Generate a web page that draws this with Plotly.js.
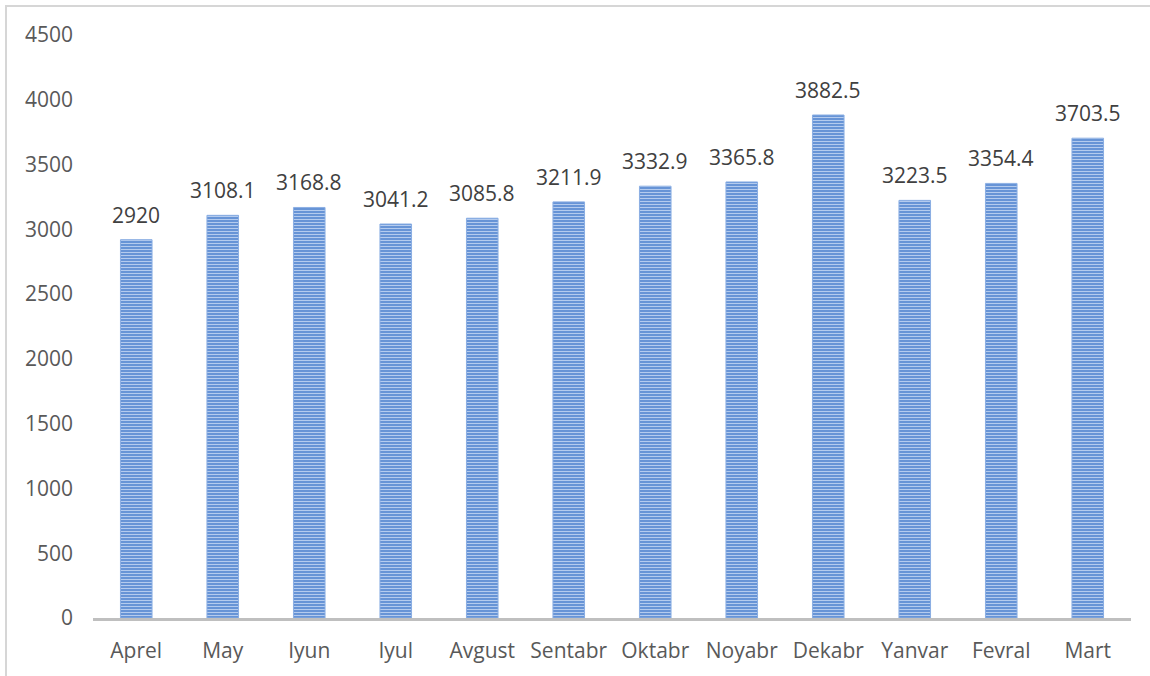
<!DOCTYPE html>
<html>
<head>
<meta charset="utf-8">
<script src="https://cdn.plot.ly/plotly-3.0.1.min.js"></script>
<style>
html,body{margin:0;padding:0;overflow:hidden;background:#fff;}
#chart{width:1150px;height:676px;}
#frame{position:absolute;left:5px;top:5px;width:1200px;height:700px;border-left:2.5px solid #d6d6d6;border-top:2.5px solid #d6d6d6;pointer-events:none;}
</style>
</head>
<body>
<div id="chart"></div>
<div id="frame"></div>
<script>
const months = ["Aprel","May","Iyun","Iyul","Avgust","Sentabr","Oktabr","Noyabr","Dekabr","Yanvar","Fevral","Mart"];
const values = [2920, 3108.1, 3168.8, 3041.2, 3085.8, 3211.9, 3332.9, 3365.8, 3882.5, 3223.5, 3354.4, 3703.5];
const labels = ["2920","3108.1","3168.8","3041.2","3085.8","3211.9","3332.9","3365.8","3882.5","3223.5","3354.4","3703.5"];
const yTicks = [0,500,1000,1500,2000,2500,3000,3500,4000,4500];

const fontFam = "'Open Sans', 'DejaVu Sans', sans-serif";

const trace = {
  type: 'bar',
  x: months,
  y: values,
  marker: {
    color: '#5e8ed4',
    line: {color: '#8aaee3', width: 1},
    pattern: {shape: '-', fillmode: 'replace', bgcolor: '#5e8ed4', fgcolor: '#b4cbee', size: 3, solidity: 0.4}
  },
  hoverinfo: 'x+y'
};

const annotations = months.map((m, i) => ({
  x: m, y: values[i], xref: 'x', yref: 'y',
  text: labels[i], showarrow: false,
  yanchor: 'bottom', yshift: 9,
  font: {family: fontFam, size: 21, color: '#404040'}
}));

const layout = {
  width: 1150, height: 676,
  margin: {l: 93, r: 19, t: 35, b: 58},
  paper_bgcolor: '#ffffff', plot_bgcolor: '#ffffff',
  bargap: 0.635,
  showlegend: false,
  xaxis: {
    type: 'category',
    showgrid: false, zeroline: false,
    showline: true, linecolor: '#bfbfbf', linewidth: 3,
    ticks: '', ticklabelstandoff: 12,
    tickfont: {family: fontFam, size: 21, color: '#595959'}
  },
  yaxis: {
    range: [0, 4500],
    tickvals: yTicks,
    ticktext: yTicks.map(String),
    showgrid: false, zeroline: false, showline: false,
    ticks: '', ticklabelstandoff: 19,
    tickfont: {family: fontFam, size: 21, color: '#595959'}
  },
  annotations: annotations
};

Plotly.newPlot('chart', [trace], layout, {displayModeBar: false, staticPlot: true});
</script>
</body>
</html>
